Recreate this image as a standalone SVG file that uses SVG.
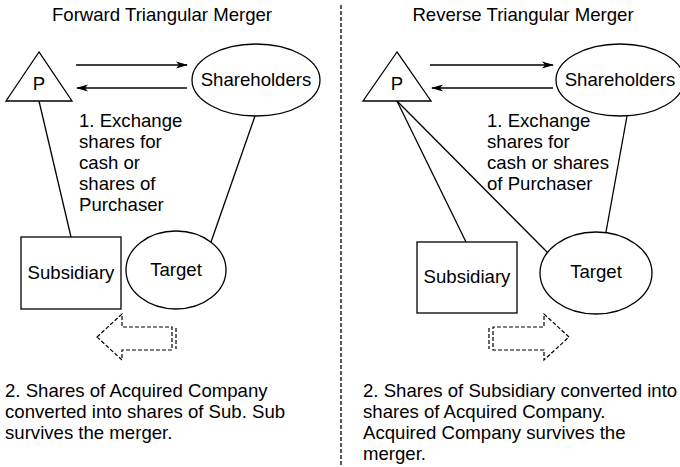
<svg xmlns="http://www.w3.org/2000/svg" width="680" height="467" viewBox="0 0 680 467">
<style>
text{font-family:"Liberation Sans",Arial,sans-serif;font-size:18.6px;fill:#000}
.c{text-anchor:middle}
.s{fill:#fff;stroke:#000;stroke-width:1.3}
.l{stroke:#000;stroke-width:1.3;fill:none}
.d{stroke:#000;stroke-width:1.2;fill:none;stroke-dasharray:4 2}
</style>
<defs>
<marker id="ah" markerWidth="12" markerHeight="8" refX="11" refY="4" orient="auto" markerUnits="userSpaceOnUse">
<path d="M0,0.5 L12,4 L0,7.5 L3,4 Z" fill="#000"/>
</marker>
</defs>
<rect width="680" height="467" fill="#fff"/>
<line x1="341" y1="5" x2="341" y2="467" class="l" stroke-dasharray="4 2"/>
<text class="c" x="162" y="21">Forward Triangular Merger</text>
<text class="c" x="523" y="21">Reverse Triangular Merger</text>
<g id="connectors">
<line class="l" x1="76" y1="65" x2="187" y2="65" marker-end="url(#ah)"/>
<line class="l" x1="187" y1="88" x2="77" y2="88" marker-end="url(#ah)"/>
<line class="l" x1="39" y1="101" x2="71" y2="237"/>
<line class="l" x1="255" y1="116" x2="211" y2="242"/>
<line class="l" x1="430" y1="65" x2="553" y2="65" marker-end="url(#ah)"/>
<line class="l" x1="553" y1="88" x2="432" y2="88" marker-end="url(#ah)"/>
<line class="l" x1="397" y1="101" x2="466" y2="242"/>
<line class="l" x1="397" y1="101" x2="547" y2="252"/>
<line class="l" x1="627" y1="116" x2="606" y2="232"/>
</g>
<g id="p-left"><polygon class="s" points="39,52 6,101 72,101"/><text class="c" x="39" y="90">P</text></g>
<g id="shareholders-left"><ellipse class="s" cx="256" cy="80" rx="64" ry="36"/><text class="c" x="256" y="86">Shareholders</text></g>
<g id="subsidiary-left"><rect class="s" x="21" y="237" width="100" height="72"/><text class="c" x="71" y="279">Subsidiary</text></g>
<g id="target-left"><ellipse class="s" cx="176" cy="270" rx="50" ry="39"/><text class="c" x="176" y="276">Target</text></g>
<g id="label1-left"><text x="79" y="127">1. Exchange</text><text x="79" y="148">shares for</text><text x="79" y="169">cash or</text><text x="79" y="190">shares of</text><text x="79" y="211">Purchaser</text></g>
<g id="arrow-left"><path class="d" d="M97,337 L122,314 L122,327 L172,327 L172,350 L122,350 L122,360 Z"/><line class="d" x1="176" y1="328" x2="176" y2="349"/></g>
<g id="label2-left"><text x="5" y="397">2. Shares of Acquired Company</text><text x="5" y="418">converted into shares of Sub. Sub</text><text x="5" y="439">survives the merger.</text></g>
<g id="p-right"><polygon class="s" points="397,52 363,101 431,101"/><text class="c" x="397" y="90">P</text></g>
<g id="shareholders-right"><ellipse class="s" cx="620" cy="80" rx="64" ry="36"/><text class="c" x="620" y="86">Shareholders</text></g>
<g id="subsidiary-right"><rect class="s" x="417" y="242" width="100" height="71"/><text class="c" x="467" y="283">Subsidiary</text></g>
<g id="target-right"><ellipse class="s" cx="596" cy="273" rx="56" ry="41"/><text class="c" x="596" y="278">Target</text></g>
<g id="label1-right"><text x="487" y="127">1. Exchange</text><text x="487" y="148">shares for</text><text x="487" y="169">cash or shares</text><text x="487" y="190">of Purchaser</text></g>
<g id="arrow-right"><path class="d" d="M569,337 L544,314 L544,327 L493,327 L493,350 L544,350 L544,360 Z"/><line class="d" x1="489" y1="328" x2="489" y2="349"/></g>
<g id="label2-right"><text x="363" y="397">2. Shares of Subsidiary converted into</text><text x="363" y="418">shares of Acquired Company.</text><text x="363" y="439">Acquired Company survives the</text><text x="363" y="460">merger.</text></g>
</svg>
